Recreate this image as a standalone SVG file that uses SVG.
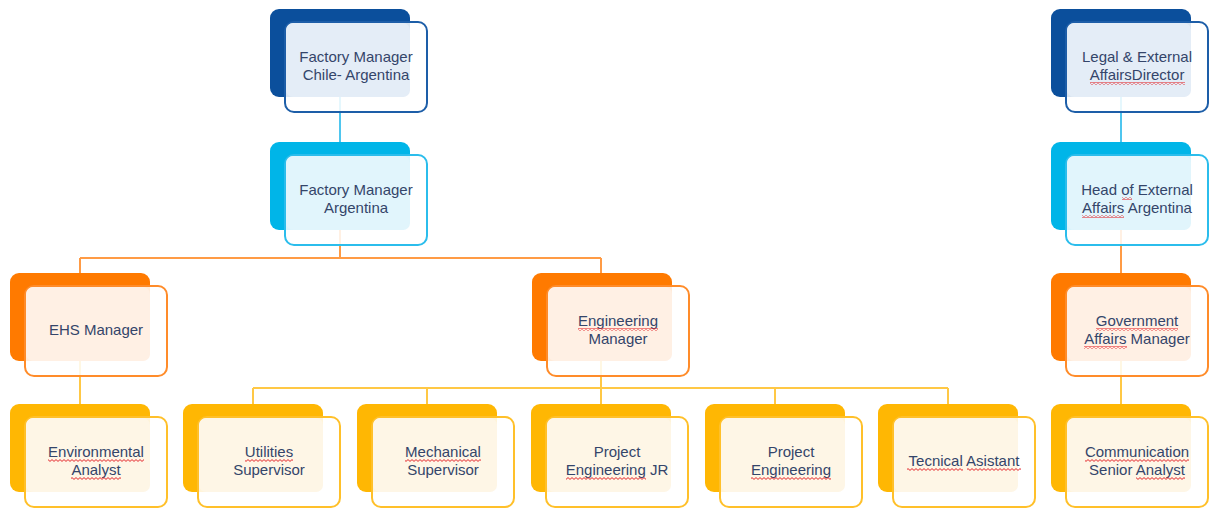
<svg xmlns="http://www.w3.org/2000/svg" width="1210" height="508" viewBox="0 0 1210 508">
<style>
.bk{stroke:none}
.fr{fill:#ffffff;fill-opacity:0.85;stroke-width:2}
.t{font-family:"Liberation Sans",Arial,sans-serif;font-size:15px;fill:#34456a;text-anchor:middle}
.c{fill:none;stroke-width:2}
.sq{fill:url(#wave)}
.blue .bk{fill:#0b4f9c}.blue .fr{stroke:#1d5ea8}.blue .lt{fill:#e4edf7}
.cyan .bk{fill:#00b5e8}.cyan .fr{stroke:#2bbdec}.cyan .lt{fill:#e1f5fc}
.orng .bk{fill:#ff7a00}.orng .fr{stroke:#ff8c2a}.orng .lt{fill:#fff0e4}
.ambr .bk{fill:#ffb703}.ambr .fr{stroke:#ffc02a}.ambr .lt{fill:#fef6e6}
</style>
<defs>
<pattern id="wave" width="4" height="3" patternUnits="userSpaceOnUse">
<path d="M0 0.6L2 2.4L4 0.6" fill="none" stroke="#e3262b" stroke-width="1"/>
</pattern>
</defs>
<rect width="1210" height="508" fill="#ffffff"/>
<g id="connectors">
<path class="c" stroke="#4fc6ef" d="M340 97V142M1121 97V142"/>
<path class="c" stroke="#ff9b45" d="M340 229V258M80 258H601M80 258V273M601 258V273M1121 229V273"/>
<path class="c" stroke="#ffc845" d="M80 360V404M601 360V388M253 388H948M253 388V404M427 388V404M601 388V404M775 388V404M948 388V404M1121 360V404"/>
</g>
<g id="n1" class="blue" transform="translate(270,9)">
<rect class="bk" width="140" height="88" rx="9"/><rect class="fr" x="15" y="13" width="142" height="90" rx="9"/><rect class="lt" x="16" y="14" width="124" height="74" rx="7"/>
<text class="t" y="53"><tspan x="86">Factory Manager</tspan><tspan x="86" dy="18">Chile- Argentina</tspan></text></g>
<g id="n2" class="cyan" transform="translate(270,142)">
<rect class="bk" width="140" height="88" rx="9"/><rect class="fr" x="15" y="13" width="142" height="90" rx="9"/><rect class="lt" x="16" y="14" width="124" height="74" rx="7"/>
<text class="t" y="53"><tspan x="86">Factory Manager</tspan><tspan x="86" dy="18">Argentina</tspan></text></g>
<g id="n3" class="orng" transform="translate(10,273)">
<rect class="bk" width="140" height="88" rx="9"/><rect class="fr" x="15" y="13" width="142" height="90" rx="9"/><rect class="lt" x="16" y="14" width="124" height="74" rx="7"/>
<text class="t" x="86" y="62">EHS Manager</text></g>
<g id="n4" class="orng" transform="translate(532,273)">
<rect class="bk" width="140" height="88" rx="9"/><rect class="fr" x="15" y="13" width="142" height="90" rx="9"/><rect class="lt" x="16" y="14" width="124" height="74" rx="7"/>
<text class="t" y="53"><tspan x="86">Engineering</tspan><tspan x="86" dy="18">Manager</tspan></text></g>
<g id="n5" class="ambr" transform="translate(10,404)">
<rect class="bk" width="140" height="88" rx="9"/><rect class="fr" x="15" y="13" width="142" height="90" rx="9"/><rect class="lt" x="16" y="14" width="124" height="74" rx="7"/>
<text class="t" y="53"><tspan x="86">Environmental</tspan><tspan x="86" dy="18">Analyst</tspan></text></g>
<g id="n6" class="ambr" transform="translate(183,404)">
<rect class="bk" width="140" height="88" rx="9"/><rect class="fr" x="15" y="13" width="142" height="90" rx="9"/><rect class="lt" x="16" y="14" width="124" height="74" rx="7"/>
<text class="t" y="53"><tspan x="86">Utilities</tspan><tspan x="86" dy="18">Supervisor</tspan></text></g>
<g id="n7" class="ambr" transform="translate(357,404)">
<rect class="bk" width="140" height="88" rx="9"/><rect class="fr" x="15" y="13" width="142" height="90" rx="9"/><rect class="lt" x="16" y="14" width="124" height="74" rx="7"/>
<text class="t" y="53"><tspan x="86">Mechanical</tspan><tspan x="86" dy="18">Supervisor</tspan></text></g>
<g id="n8" class="ambr" transform="translate(531,404)">
<rect class="bk" width="140" height="88" rx="9"/><rect class="fr" x="15" y="13" width="142" height="90" rx="9"/><rect class="lt" x="16" y="14" width="124" height="74" rx="7"/>
<text class="t" y="53"><tspan x="86">Project</tspan><tspan x="86" dy="18">Engineering JR</tspan></text></g>
<g id="n9" class="ambr" transform="translate(705,404)">
<rect class="bk" width="140" height="88" rx="9"/><rect class="fr" x="15" y="13" width="142" height="90" rx="9"/><rect class="lt" x="16" y="14" width="124" height="74" rx="7"/>
<text class="t" y="53"><tspan x="86">Project</tspan><tspan x="86" dy="18">Engineering</tspan></text></g>
<g id="n10" class="ambr" transform="translate(878,404)">
<rect class="bk" width="140" height="88" rx="9"/><rect class="fr" x="15" y="13" width="142" height="90" rx="9"/><rect class="lt" x="16" y="14" width="124" height="74" rx="7"/>
<text class="t" x="86" y="62">Tecnical Asistant</text></g>
<g id="n11" class="blue" transform="translate(1051,9)">
<rect class="bk" width="140" height="88" rx="9"/><rect class="fr" x="15" y="13" width="142" height="90" rx="9"/><rect class="lt" x="16" y="14" width="124" height="74" rx="7"/>
<text class="t" y="53"><tspan x="86">Legal &amp; External</tspan><tspan x="86" dy="18">AffairsDirector</tspan></text></g>
<g id="n12" class="cyan" transform="translate(1051,142)">
<rect class="bk" width="140" height="88" rx="9"/><rect class="fr" x="15" y="13" width="142" height="90" rx="9"/><rect class="lt" x="16" y="14" width="124" height="74" rx="7"/>
<text class="t" y="53"><tspan x="86">Head of External</tspan><tspan x="86" dy="18">Affairs Argentina</tspan></text></g>
<g id="n13" class="orng" transform="translate(1051,273)">
<rect class="bk" width="140" height="88" rx="9"/><rect class="fr" x="15" y="13" width="142" height="90" rx="9"/><rect class="lt" x="16" y="14" width="124" height="74" rx="7"/>
<text class="t" y="53"><tspan x="86">Government</tspan><tspan x="86" dy="18">Affairs Manager</tspan></text></g>
<g id="n14" class="ambr" transform="translate(1051,404)">
<rect class="bk" width="140" height="88" rx="9"/><rect class="fr" x="15" y="13" width="142" height="90" rx="9"/><rect class="lt" x="16" y="14" width="124" height="74" rx="7"/>
<text class="t" y="53"><tspan x="86">Communication</tspan><tspan x="86" dy="18">Senior Analyst</tspan></text></g>
<g id="spellcheck">
<rect class="sq" x="578" y="328" width="80" height="3"/>
<rect class="sq" x="48" y="459" width="96" height="3"/>
<rect class="sq" x="71" y="477" width="50" height="3"/>
<rect class="sq" x="245" y="459" width="48" height="3"/>
<rect class="sq" x="405" y="459" width="76" height="3"/>
<rect class="sq" x="566" y="477" width="80" height="3"/>
<rect class="sq" x="751" y="477" width="80" height="3"/>
<rect class="sq" x="907" y="468" width="56" height="3"/>
<rect class="sq" x="967" y="468" width="54" height="3"/>
<rect class="sq" x="1090" y="82" width="95" height="3"/>
<rect class="sq" x="1122" y="197" width="10" height="3"/>
<rect class="sq" x="1082" y="215" width="42" height="3"/>
<rect class="sq" x="1096" y="328" width="82" height="3"/>
<rect class="sq" x="1084" y="346" width="43" height="3"/>
<rect class="sq" x="1085" y="459" width="104" height="3"/>
<rect class="sq" x="1136" y="477" width="49" height="3"/>
</g>
</svg>
